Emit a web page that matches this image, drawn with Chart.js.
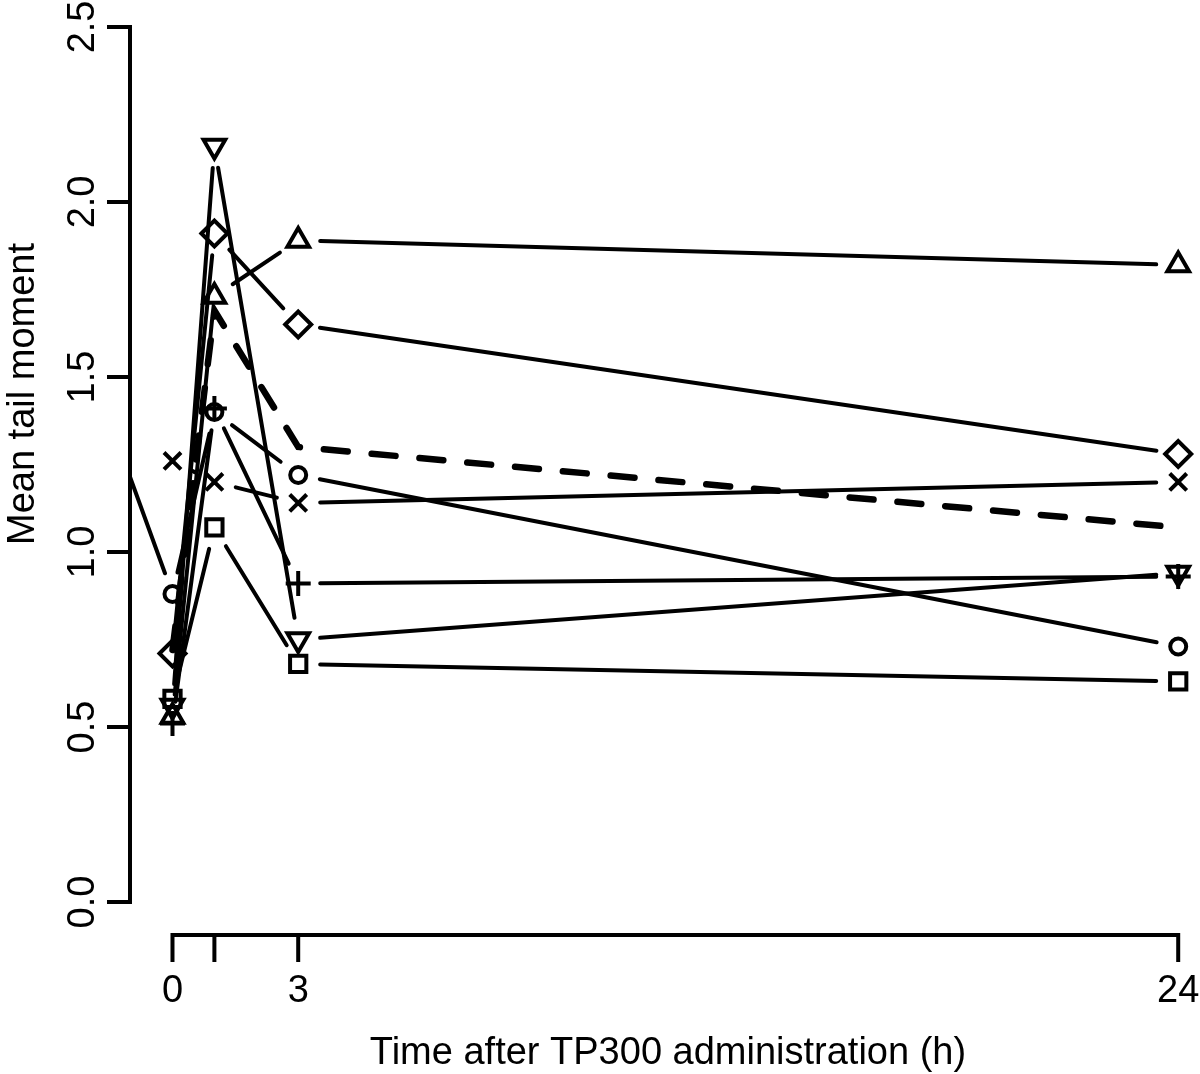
<!DOCTYPE html>
<html>
<head>
<meta charset="utf-8">
<title>Mean tail moment</title>
<script src="https://cdn.jsdelivr.net/npm/chart.js@4.4.1/dist/chart.umd.min.js"></script>
<style>
    html, body { margin: 0; padding: 0; background: #fff; }
    canvas { display: block; }
</style>
</head>
<body>
<canvas id="tail-chart" width="1200" height="1074"></canvas>
<script>
const hours = [0, 1, 3, 24];
const xTicks = [0, 1, 3, 24];
const xTickLabels = ['0', '', '3', '24'];
const yTicks = [0, 0.5, 1, 1.5, 2, 2.5];
const yTickLabels = ['0.0', '0.5', '1.0', '1.5', '2.0', '2.5'];

const circleVals = [0.88, 1.40, 1.22, 0.73];
const triangleVals = [0.53, 1.73, 1.89, 1.82];
const plusVals = [0.51, 1.41, 0.91, 0.93];
const crossVals = [1.26, 1.20, 1.14, 1.20];
const diamondVals = [0.71, 1.91, 1.65, 1.28];
const invTriangleVals = [0.56, 2.16, 0.75, 0.94];
const squareVals = [0.58, 1.07, 0.68, 0.63];
const meanVals = [0.72, 1.69, 1.30, 1.07];

// the circle series starts left of the plotted range, only its segment shows
const circleLeadHour = -2;
const circleLeadVal = 1.54;

const FONT = '"Liberation Sans", Arial, sans-serif';

function toPoints(xs, ys) {
    return xs.map((x, i) => ({ x: x, y: ys[i] }));
}

function series(points, style, radius, rotation) {
    return {
        data: points,
        showLine: false,
        gapLine: true,
        pointStyle: style,
        pointRadius: radius,
        pointRotation: rotation || 0,
        pointBorderColor: '#000',
        pointBackgroundColor: 'rgba(0,0,0,0)',
        pointBorderWidth: 4
    };
}

// R type="b": segments stop short of the symbols
const gapLines = {
    id: 'gapLines',
    beforeDatasetsDraw(chart, args, opts) {
        const { ctx, chartArea } = chart;
        ctx.save();
        ctx.beginPath();
        ctx.rect(chartArea.left, chartArea.top, chartArea.right - chartArea.left, chartArea.bottom - chartArea.top);
        ctx.clip();
        ctx.strokeStyle = '#000';
        ctx.lineWidth = opts.width;
        ctx.lineCap = 'round';
        chart.data.datasets.forEach((ds, i) => {
            if (!ds.gapLine) return;
            const pts = chart.getDatasetMeta(i).data;
            for (let k = 1; k < pts.length; k++) {
                const a = pts[k - 1], b = pts[k];
                const dx = b.x - a.x, dy = b.y - a.y;
                const len = Math.hypot(dx, dy);
                if (len <= 2 * opts.gap) continue;
                const ux = dx / len, uy = dy / len;
                ctx.beginPath();
                ctx.moveTo(a.x + ux * opts.gap, a.y + uy * opts.gap);
                ctx.lineTo(b.x - ux * opts.gap, b.y - uy * opts.gap);
                ctx.stroke();
            }
        });
        ctx.restore();
    }
};

// detached R style axes and titles
const rAxes = {
    id: 'rAxes',
    afterDraw(chart) {
        const { ctx, chartArea, scales: { x, y } } = chart;
        const tick = 23;
        ctx.save();
        ctx.strokeStyle = '#000';
        ctx.fillStyle = '#000';
        ctx.lineWidth = 4;
        ctx.lineCap = 'butt';

        const ax = chartArea.left;
        ctx.beginPath();
        ctx.moveTo(ax, y.getPixelForValue(yTicks[0]) + 2);
        ctx.lineTo(ax, y.getPixelForValue(yTicks[yTicks.length - 1]) - 2);
        yTicks.forEach(v => {
            const py = y.getPixelForValue(v);
            ctx.moveTo(ax + 2, py);
            ctx.lineTo(ax - tick, py);
        });
        ctx.stroke();

        const ay = chartArea.bottom;
        ctx.beginPath();
        ctx.moveTo(x.getPixelForValue(xTicks[0]) - 2, ay);
        ctx.lineTo(x.getPixelForValue(xTicks[xTicks.length - 1]) + 2, ay);
        xTicks.forEach(v => {
            const px = x.getPixelForValue(v);
            ctx.moveTo(px, ay - 2);
            ctx.lineTo(px, ay + tick + 4);
        });
        ctx.stroke();

        ctx.font = '38px ' + FONT;
        ctx.textAlign = 'center';
        ctx.textBaseline = 'alphabetic';
        yTicks.forEach((v, i) => {
            ctx.save();
            ctx.translate(ax - 36, y.getPixelForValue(v));
            ctx.rotate(-Math.PI / 2);
            ctx.fillText(yTickLabels[i], 0, 0);
            ctx.restore();
        });
        xTicks.forEach((v, i) => {
            if (!xTickLabels[i]) return;
            ctx.fillText(xTickLabels[i], x.getPixelForValue(v), ay + 67);
        });

        ctx.fillText('Time after TP300 administration (h)', 668, 1064);
        ctx.save();
        ctx.translate(34, 394);
        ctx.rotate(-Math.PI / 2);
        ctx.fillText('Mean tail moment', 0, 0);
        ctx.restore();
        ctx.restore();
    }
};

const ctx = document.getElementById('tail-chart').getContext('2d');

const tailChart = new Chart(ctx, {
    type: 'scatter',
    data: {
        datasets: [
            series(toPoints([circleLeadHour].concat(hours), [circleLeadVal].concat(circleVals)), 'circle', 8),
            series(toPoints(hours, triangleVals), 'triangle', 12.5),
            series(toPoints(hours, plusVals), 'cross', 12.5),
            series(toPoints(hours, crossVals), 'crossRot', 12),
            series(toPoints(hours, diamondVals), 'rectRot', 13),
            series(toPoints(hours, invTriangleVals), 'triangle', 12.5, 180),
            series(toPoints(hours, squareVals), 'rect', 11.5),
            {
                data: toPoints(hours, meanVals),
                showLine: true,
                borderColor: '#000',
                borderWidth: 6.5,
                borderDash: [24, 24],
                borderCapStyle: 'round',
                pointRadius: 0,
                tension: 0
            }
        ]
    },
    options: {
        responsive: false,
        animation: false,
        devicePixelRatio: 1,
        layout: {
            autoPadding: false,
            padding: { left: 130, right: 0, top: 0, bottom: 139 }
        },
        plugins: {
            legend: { display: false },
            tooltip: { enabled: false },
            gapLines: { gap: 22, width: 4 }
        },
        scales: {
            x: {
                type: 'linear',
                min: -1.014,
                max: 24.52,
                display: false
            },
            y: {
                type: 'linear',
                min: -0.0943,
                max: 2.577,
                display: false
            }
        }
    },
    plugins: [gapLines, rAxes]
});
</script>
</body>
</html>
